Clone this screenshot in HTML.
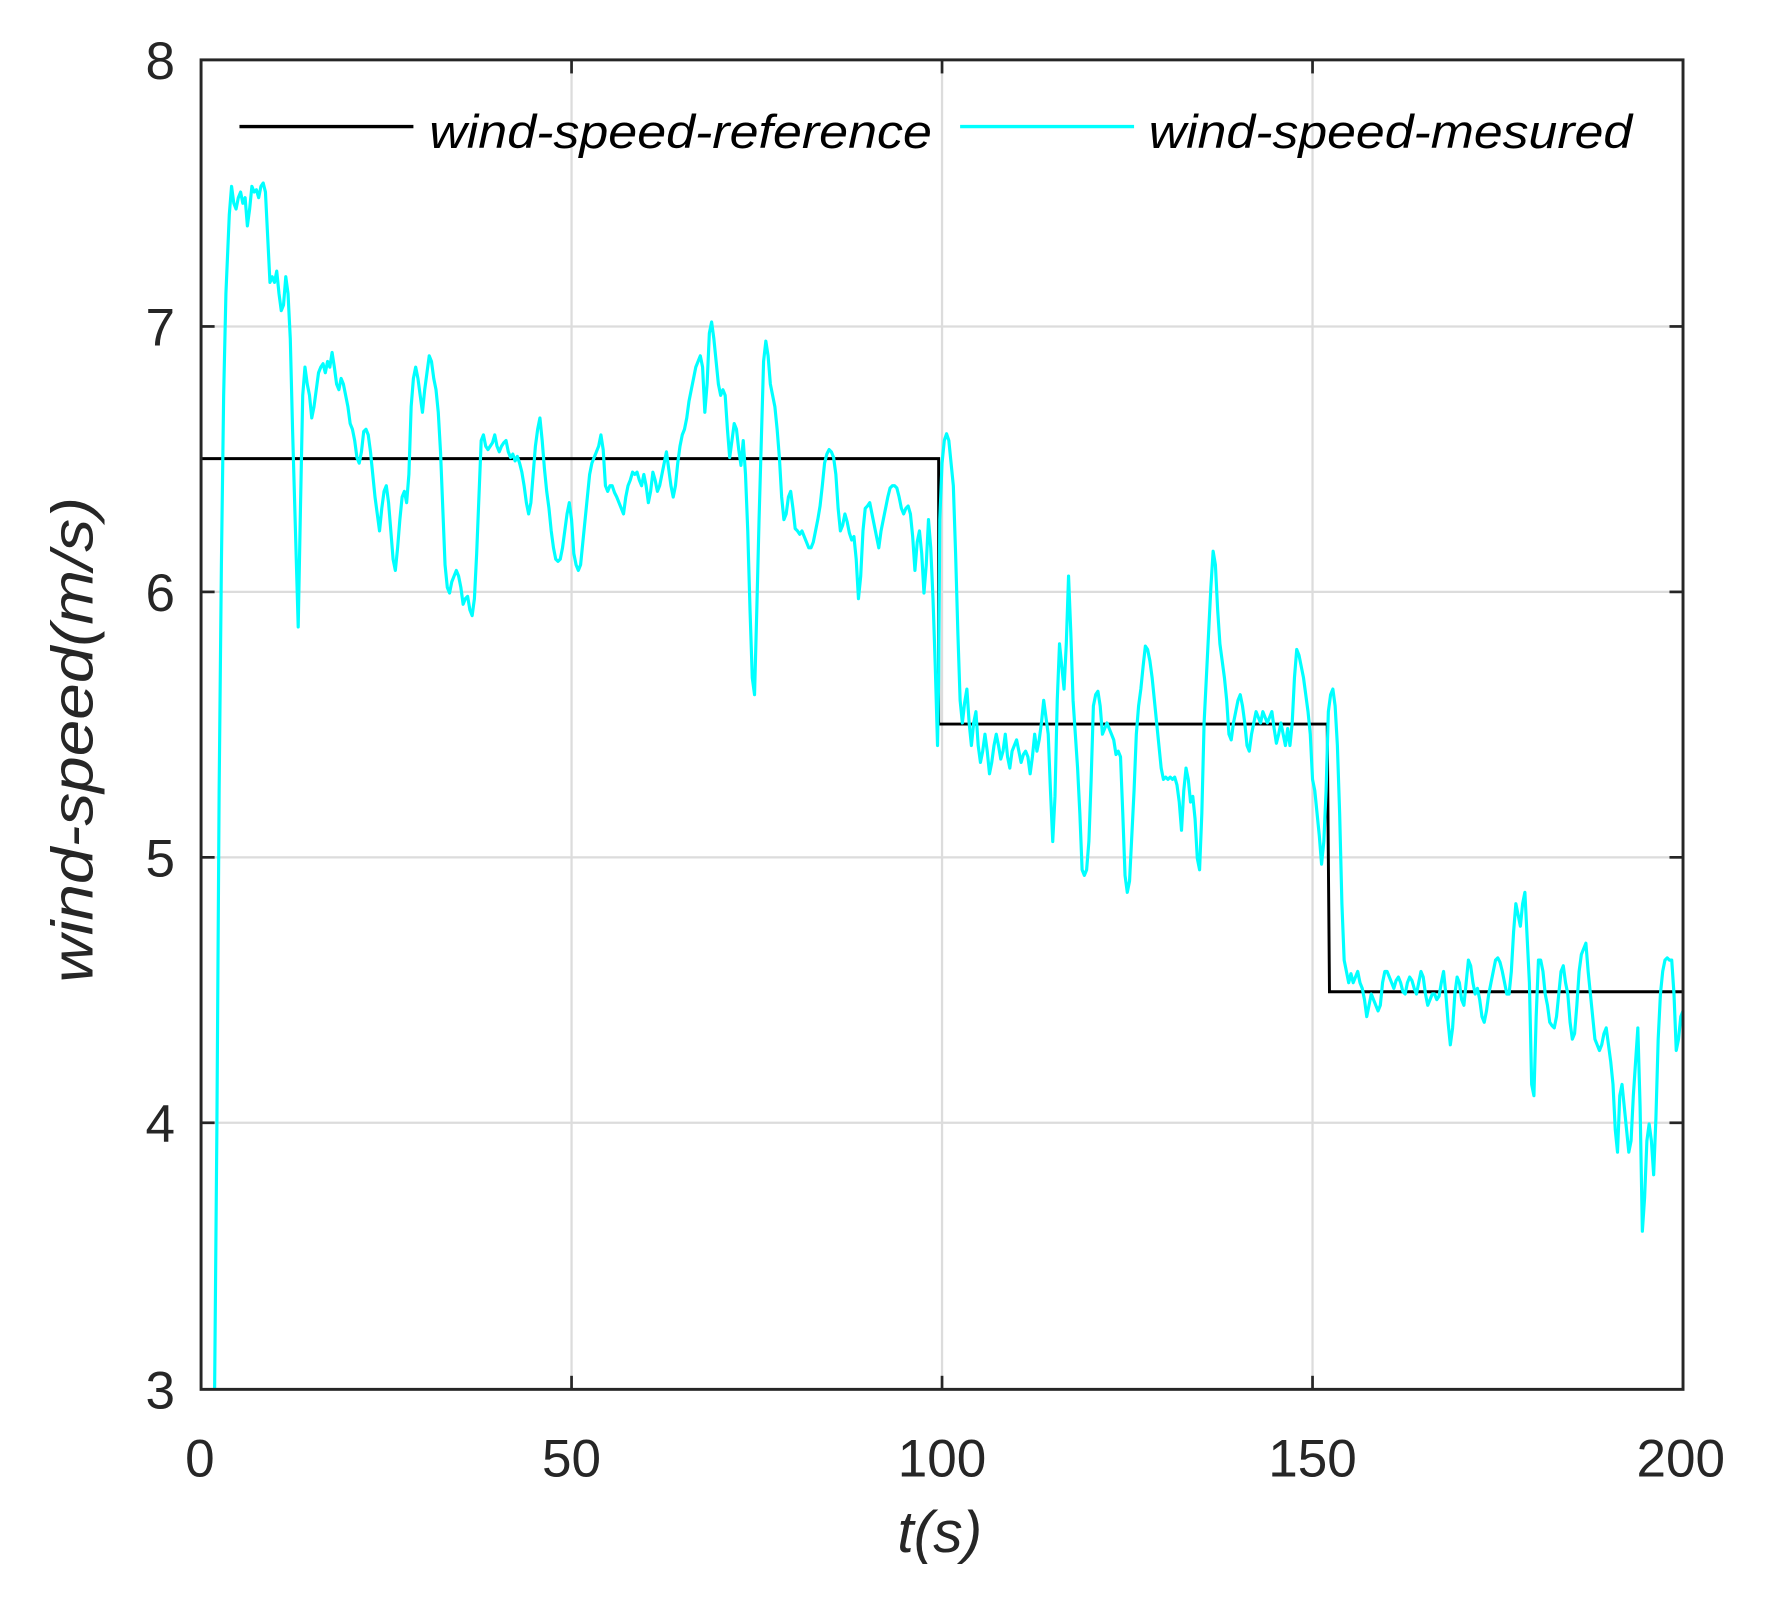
<!DOCTYPE html>
<html><head><meta charset="utf-8"><style>html,body{margin:0;padding:0;background:#fff}svg{display:block}</style></head>
<body>
<svg width="1770" height="1598" viewBox="0 0 1567 1414.7" xmlns="http://www.w3.org/2000/svg" font-family="Liberation Sans, sans-serif">
<rect width="1567" height="1415" fill="#fff"/>
<g stroke="#dcdcdc" stroke-width="2">
<line x1="506" y1="53" x2="506" y2="1230"/><line x1="834" y1="53" x2="834" y2="1230"/><line x1="1162" y1="53" x2="1162" y2="1230"/>
<line x1="178" y1="289" x2="1490" y2="289"/><line x1="178" y1="524" x2="1490" y2="524"/><line x1="178" y1="759" x2="1490" y2="759"/><line x1="178" y1="994" x2="1490" y2="994"/>
</g>
<polyline fill="none" stroke="#000" stroke-width="2.6" points="178,406 831,406 831,641 1175,641 1177,878 1490,878"/>
<polyline fill="none" stroke="#00ffff" stroke-width="2.8" stroke-linejoin="round" points="190,1230 192,1000 194,700 196,500 198,350 200,260 203,190 205,165 207,180 209,185 211,175 213,170 215,180 217,175 219,200 221,185 223,165 225,170 227,168 229,175 231,165 233,162 235,170 237,210 239,250 241,245 243,250 245,240 247,260 249,275 251,270 253,245 255,260 257,300 259,380 261,450 263,520 264,555 266,450 268,350 270,325 272,340 274,350 276,370 278,360 280,345 282,330 284,325 286,322 288,330 290,320 292,325 294,312 296,325 298,340 300,345 302,335 304,340 306,350 308,360 310,375 312,380 314,390 316,405 318,410 320,400 322,382 324,380 326,385 328,400 330,420 332,440 334,455 336,470 338,450 340,435 342,430 344,445 346,470 348,495 350,505 352,485 354,460 356,440 358,435 360,445 362,420 364,360 366,335 368,325 370,335 372,350 374,365 376,345 378,330 380,315 382,320 384,335 386,345 388,365 390,400 392,450 394,500 396,520 398,525 400,515 402,510 404,505 406,510 408,520 410,535 412,530 414,528 416,540 418,545 420,530 422,490 424,440 426,390 428,385 430,395 432,398 434,395 436,392 438,385 440,395 442,400 444,395 446,392 448,390 450,400 452,405 454,402 456,408 458,404 460,410 462,418 464,430 466,445 468,455 470,445 472,420 474,395 476,380 478,370 480,390 482,415 484,435 486,450 488,470 490,485 492,495 494,497 496,495 498,485 500,470 502,455 504,445 506,460 508,490 510,500 512,505 514,500 516,480 518,460 520,440 522,420 524,410 526,405 528,400 530,395 532,385 534,398 536,430 538,435 540,430 542,430 544,436 546,440 548,445 550,450 552,455 554,440 556,430 558,425 560,418 562,420 564,418 566,425 568,430 570,420 572,430 574,445 576,435 578,418 580,425 582,435 584,430 586,420 588,410 590,400 592,415 594,430 596,440 598,430 600,410 602,395 604,385 606,380 608,370 610,355 612,345 614,335 616,325 618,320 620,315 622,325 624,365 626,340 628,295 630,285 632,300 634,320 636,340 638,350 640,345 642,350 644,380 646,405 648,390 650,375 652,380 654,398 656,412 658,390 660,420 662,470 664,540 666,600 668,615 670,540 672,460 674,390 676,320 678,302 680,315 682,340 684,350 686,360 688,380 690,405 692,440 694,460 696,455 698,440 700,435 702,450 704,468 706,470 708,473 710,470 712,475 714,480 716,485 718,485 720,480 722,470 724,460 726,448 728,430 730,410 732,402 734,398 736,400 738,405 740,420 742,450 744,470 746,465 748,455 750,462 752,472 754,478 756,475 758,495 760,530 762,510 764,470 766,450 768,448 770,445 772,455 774,465 776,475 778,485 780,470 782,460 784,450 786,440 788,432 790,430 792,430 794,432 796,440 798,450 800,455 802,450 804,448 806,455 808,475 810,505 812,480 814,470 816,490 818,525 820,500 822,460 824,485 826,530 828,590 830,660 831,600 832,460 834,410 836,390 838,384 840,390 842,410 844,430 846,490 848,560 850,620 852,640 854,622 856,610 858,640 860,660 862,640 864,630 866,660 868,675 870,665 872,650 874,665 876,685 878,675 880,660 882,650 884,660 886,672 888,665 890,650 892,670 894,680 896,665 898,660 900,655 902,665 904,675 906,668 908,665 910,670 912,685 914,670 916,650 918,665 920,655 922,640 924,620 926,635 928,650 930,700 932,745 934,705 936,620 938,570 940,590 942,610 944,570 946,510 948,560 950,620 952,650 954,680 956,720 958,770 960,775 962,770 964,745 966,690 968,625 970,615 972,612 974,625 976,650 978,645 980,640 982,645 984,650 986,655 988,668 990,665 992,670 994,720 996,775 998,790 1000,780 1002,740 1004,700 1006,650 1008,625 1010,610 1012,590 1014,572 1016,575 1018,585 1020,600 1022,620 1024,640 1026,660 1028,680 1030,690 1032,688 1034,690 1036,688 1038,690 1040,688 1042,695 1044,710 1046,735 1048,700 1050,680 1052,690 1054,710 1056,705 1058,725 1060,760 1062,770 1064,720 1066,640 1068,600 1070,560 1072,520 1074,488 1076,500 1078,540 1080,570 1082,585 1084,600 1086,620 1088,650 1090,655 1092,640 1094,630 1096,620 1098,615 1100,625 1102,640 1104,660 1106,665 1108,650 1110,640 1112,630 1114,635 1116,640 1118,630 1120,635 1122,640 1124,635 1126,630 1128,645 1130,658 1132,650 1134,640 1136,650 1138,660 1140,645 1142,660 1144,640 1146,600 1148,575 1150,580 1152,590 1154,600 1156,615 1158,630 1160,650 1162,690 1164,700 1166,720 1168,740 1170,765 1172,745 1174,700 1176,630 1178,615 1180,610 1182,625 1184,660 1186,720 1188,800 1190,850 1192,860 1194,870 1196,862 1198,870 1200,865 1202,860 1204,870 1206,875 1208,885 1210,900 1212,890 1214,880 1216,885 1218,890 1220,895 1222,890 1224,870 1226,860 1228,860 1230,865 1232,870 1234,875 1236,868 1238,865 1240,870 1242,878 1244,880 1246,870 1248,865 1250,868 1252,875 1254,880 1256,870 1258,860 1260,865 1262,880 1264,890 1266,885 1268,880 1270,880 1272,885 1274,882 1276,870 1278,860 1280,880 1282,905 1284,925 1286,910 1288,880 1290,865 1292,870 1294,885 1296,890 1298,870 1300,850 1302,855 1304,870 1306,880 1308,875 1310,885 1312,900 1314,905 1316,895 1318,880 1320,870 1322,860 1324,850 1326,848 1328,852 1330,860 1332,870 1334,880 1336,880 1338,860 1340,825 1342,800 1344,810 1346,820 1348,800 1350,790 1352,830 1354,870 1356,960 1358,970 1360,900 1362,850 1364,850 1366,860 1368,880 1370,890 1372,905 1374,908 1376,910 1378,900 1380,880 1382,860 1384,855 1386,870 1388,880 1390,905 1392,920 1394,915 1396,890 1398,860 1400,845 1402,840 1404,835 1406,860 1408,880 1410,900 1412,920 1414,925 1416,930 1418,925 1420,915 1422,910 1424,925 1426,940 1428,960 1430,1000 1432,1020 1434,970 1436,960 1438,980 1440,1000 1442,1020 1444,1010 1446,970 1448,940 1450,910 1452,980 1454,1090 1456,1060 1458,1010 1460,995 1462,1010 1464,1040 1466,990 1468,920 1470,880 1472,860 1474,850 1476,848 1478,850 1480,850 1482,880 1484,930 1486,920 1488,900 1490,895"/>
<!-- legend -->
<line x1="212" y1="112" x2="366" y2="112" stroke="#000" stroke-width="3"/>
<text x="380" y="131" font-size="42" font-style="italic" fill="#000" textLength="445" lengthAdjust="spacingAndGlyphs">wind-speed-reference</text>
<line x1="850" y1="112" x2="1004" y2="112" stroke="#00ffff" stroke-width="3"/>
<text x="1017" y="131" font-size="42" font-style="italic" fill="#000" textLength="428" lengthAdjust="spacingAndGlyphs">wind-speed-mesured</text>
<!-- ticks -->
<g stroke="#262626" stroke-width="2.4">
<line x1="506" y1="1230" x2="506" y2="1218"/><line x1="834" y1="1230" x2="834" y2="1218"/><line x1="1162" y1="1230" x2="1162" y2="1218"/>
<line x1="506" y1="53" x2="506" y2="65"/><line x1="834" y1="53" x2="834" y2="65"/><line x1="1162" y1="53" x2="1162" y2="65"/>
<line x1="178" y1="289" x2="190" y2="289"/><line x1="178" y1="524" x2="190" y2="524"/><line x1="178" y1="759" x2="190" y2="759"/><line x1="178" y1="994" x2="190" y2="994"/>
<line x1="1490" y1="289" x2="1478" y2="289"/><line x1="1490" y1="524" x2="1478" y2="524"/><line x1="1490" y1="759" x2="1478" y2="759"/><line x1="1490" y1="994" x2="1478" y2="994"/>
</g>
<rect x="178" y="53" width="1312" height="1177" fill="none" stroke="#262626" stroke-width="2.6"/>
<g font-size="47" fill="#262626" text-anchor="end">
<text x="155" y="70">8</text><text x="155" y="306">7</text><text x="155" y="541">6</text><text x="155" y="776">5</text><text x="155" y="1011">4</text><text x="155" y="1247">3</text>
</g>
<g font-size="47" fill="#262626" text-anchor="middle">
<text x="177" y="1307">0</text><text x="506" y="1307">50</text><text x="834" y="1307">100</text><text x="1162" y="1307">150</text><text x="1488" y="1307">200</text>
</g>
<text x="832" y="1374" font-size="52" font-style="italic" fill="#262626" text-anchor="middle">t(s)</text>
<text transform="translate(82,655) rotate(-90)" font-size="52" font-style="italic" fill="#262626" text-anchor="middle" textLength="430" lengthAdjust="spacingAndGlyphs">wind-speed(m/s)</text>
</svg>
</body></html>
